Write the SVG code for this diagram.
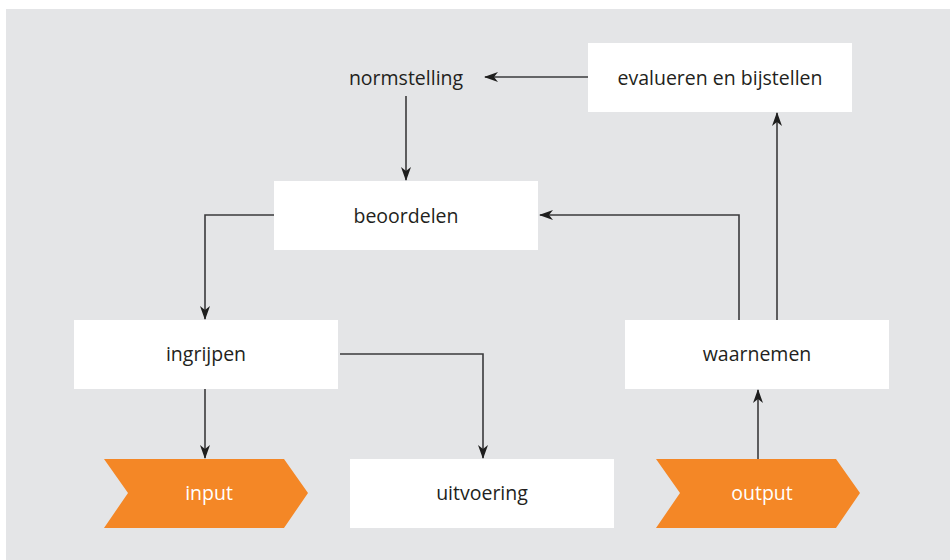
<svg xmlns="http://www.w3.org/2000/svg" width="950" height="560" viewBox="0 0 950 560">
  <style>
    .box { fill: #ffffff; }
    .chev { fill: #f48726; }
    .lbl { font-family: "Open Sans", "Liberation Sans", sans-serif; font-size: 19.5px; fill: #231f20; text-anchor: middle; dominant-baseline: central; }
    .lbl-w { font-family: "Open Sans", "Liberation Sans", sans-serif; font-size: 19.5px; fill: #ffffff; text-anchor: middle; dominant-baseline: central; }
    .conn { fill: none; stroke: #3a3a3c; stroke-width: 1.6; marker-end: url(#head); }
  </style>
  <defs>
    <marker id="head" viewBox="0 0 14 10" refX="13" refY="5" markerWidth="14" markerHeight="10" markerUnits="userSpaceOnUse" orient="auto">
      <path d="M0,0 L14,5 L0,10 L4,5 Z" fill="#1e1e1e"/>
    </marker>
  </defs>

  <rect x="0" y="0" width="950" height="560" fill="#ffffff"/>
  <rect x="6" y="9" width="944" height="551" fill="#e4e5e7"/>

  <g id="connectors">
    <path class="conn" d="M588,77 H485"/>
    <path class="conn" d="M406,96 V180"/>
    <path class="conn" d="M739,320 V215 H540"/>
    <path class="conn" d="M777,320 V113"/>
    <path class="conn" d="M274,215 H205 V319"/>
    <path class="conn" d="M205,389 V458"/>
    <path class="conn" d="M340,354 H483 V458"/>
    <path class="conn" d="M758,459 V390"/>
  </g>

  <g id="normstelling">
    <text class="lbl" x="406" y="77">normstelling</text>
  </g>
  <g id="evalueren">
    <rect class="box" x="588" y="43" width="264" height="69"/>
    <text class="lbl" x="720" y="77">evalueren en bijstellen</text>
  </g>
  <g id="beoordelen">
    <rect class="box" x="274" y="181" width="264" height="69"/>
    <text class="lbl" x="406" y="215">beoordelen</text>
  </g>
  <g id="ingrijpen">
    <rect class="box" x="74" y="320" width="264" height="69"/>
    <text class="lbl" x="206" y="353">ingrijpen</text>
  </g>
  <g id="waarnemen">
    <rect class="box" x="625" y="320" width="264" height="69"/>
    <text class="lbl" x="757" y="353">waarnemen</text>
  </g>
  <g id="uitvoering">
    <rect class="box" x="350" y="459" width="264" height="69"/>
    <text class="lbl" x="482" y="492">uitvoering</text>
  </g>
  <g id="input">
    <polygon class="chev" points="104,459 284,459 308,493 284,528 104,528 128,493"/>
    <text class="lbl-w" x="209" y="492">input</text>
  </g>
  <g id="output">
    <polygon class="chev" points="656,459 836,459 860,493 836,528 656,528 680,493"/>
    <text class="lbl-w" x="762" y="492">output</text>
  </g>
</svg>
